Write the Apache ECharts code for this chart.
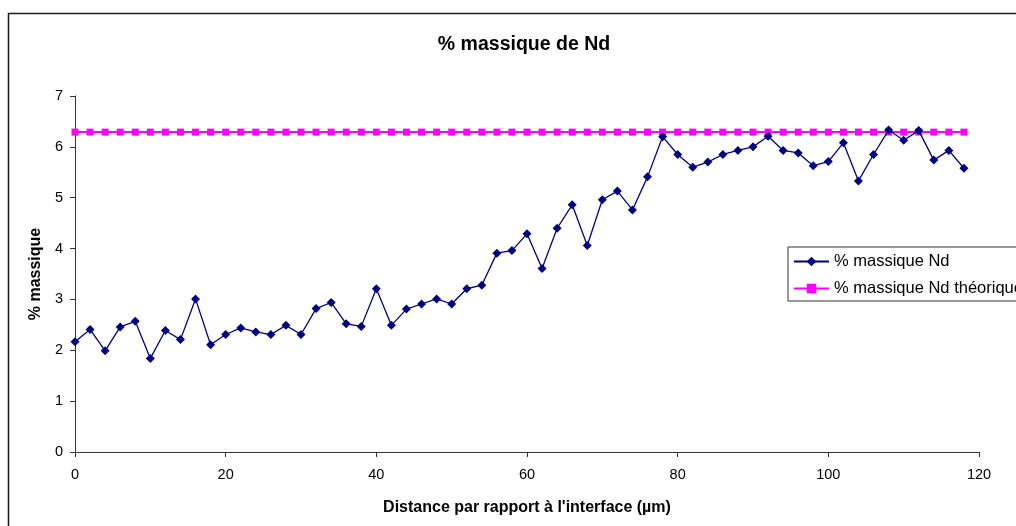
<!DOCTYPE html>
<html>
<head>
<meta charset="utf-8">
<title>% massique de Nd</title>
<script src="https://cdn.jsdelivr.net/npm/echarts@6/dist/echarts.min.js"></script>
<style>
  html, body { margin: 0; padding: 0; background: #fff; }
  #chart { width: 1016px; height: 526px; }
</style>
</head>
<body>
<div id="chart"></div>
<script>
// Distance from the interface (µm), one measurement every 2 µm
const distances = [
  0, 2, 4, 6, 8, 10, 12, 14, 16, 18,
  20, 22, 24, 26, 28, 30, 32, 34, 36, 38,
  40, 42, 44, 46, 48, 50, 52, 54, 56, 58,
  60, 62, 64, 66, 68, 70, 72, 74, 76, 78,
  80, 82, 84, 86, 88, 90, 92, 94, 96, 98,
  100, 102, 104, 106, 108, 110, 112, 114, 116, 118
];

// Measured Nd mass fraction (%)
const ndMeasured = [
  2.17, 2.41, 1.99, 2.46, 2.57, 1.84, 2.39, 2.21, 3.01, 2.11,
  2.31, 2.44, 2.36, 2.31, 2.49, 2.31, 2.82, 2.94, 2.52, 2.47,
  3.21, 2.49, 2.81, 2.91, 3.01, 2.91, 3.21, 3.28, 3.91, 3.96,
  4.29, 3.61, 4.40, 4.86, 4.06, 4.96, 5.13, 4.76, 5.41, 6.20,
  5.85, 5.60, 5.70, 5.85, 5.93, 6.00, 6.21, 5.93, 5.88, 5.63,
  5.71, 6.08, 5.33, 5.85, 6.33, 6.13, 6.32, 5.74, 5.93, 5.58
];

// Theoretical Nd mass fraction (%)
const ndTheoretical = [
  6.29, 6.29, 6.29, 6.29, 6.29, 6.29, 6.29, 6.29, 6.29, 6.29,
  6.29, 6.29, 6.29, 6.29, 6.29, 6.29, 6.29, 6.29, 6.29, 6.29,
  6.29, 6.29, 6.29, 6.29, 6.29, 6.29, 6.29, 6.29, 6.29, 6.29,
  6.29, 6.29, 6.29, 6.29, 6.29, 6.29, 6.29, 6.29, 6.29, 6.29,
  6.29, 6.29, 6.29, 6.29, 6.29, 6.29, 6.29, 6.29, 6.29, 6.29,
  6.29, 6.29, 6.29, 6.29, 6.29, 6.29, 6.29, 6.29, 6.29, 6.29
];

const seriesNames = ['% massique Nd', '% massique Nd théorique'];
const chartTitle = '% massique de Nd';
const xAxisTitle = "Distance par rapport à l'interface (µm)";
const yAxisTitle = '% massique';

const FONT = '"Liberation Sans", Arial, sans-serif';

function pairs(xs, ys) {
  return xs.map((x, i) => [x, ys[i]]);
}

const chart = echarts.init(document.getElementById('chart'), null, { renderer: 'canvas' });

chart.setOption({
  backgroundColor: '#ffffff',
  animation: false,
  textStyle: { fontFamily: FONT, color: '#000' },
  graphic: [
    {
      // outer frame of the chart area
      type: 'rect',
      shape: { x: 8.5, y: 13.5, width: 1200, height: 700 },
      style: { fill: 'none', stroke: '#1a1a1a', lineWidth: 1.5 },
      silent: true,
      z: -10
    }
  ],
  title: {
    text: chartTitle,
    left: 519,
    textAlign: 'center',
    top: 30,
    textStyle: { fontFamily: FONT, fontWeight: 'bold', fontSize: 19.5, color: '#000' }
  },
  legend: {
    orient: 'vertical',
    left: 788,
    top: 247,
    padding: [6, 5, 4, 5],
    itemWidth: 35,
    itemHeight: 12,
    itemGap: 10,
    backgroundColor: '#fff',
    borderColor: '#333',
    borderWidth: 1,
    borderRadius: 0,
    textStyle: { fontFamily: FONT, fontSize: 16.5, color: '#000' },
    data: seriesNames
  },
  grid: {
    left: 75,
    right: 37,
    top: 96,
    bottom: 74,
    containLabel: false
  },
  xAxis: {
    type: 'value',
    min: 0,
    max: 120,
    interval: 20,
    name: xAxisTitle,
    nameLocation: 'middle',
    nameGap: 48,
    nameTextStyle: { fontFamily: FONT, fontWeight: 'bold', fontSize: 16, color: '#000' },
    axisLine: { show: true, onZero: false, lineStyle: { color: '#333', width: 1 } },
    axisTick: { show: true, inside: false, length: 5, lineStyle: { color: '#333' } },
    axisLabel: { margin: 15, fontFamily: FONT, fontSize: 14.5, color: '#000' },
    splitLine: { show: false }
  },
  yAxis: {
    type: 'value',
    min: 0,
    max: 7,
    interval: 1,
    name: yAxisTitle,
    nameLocation: 'middle',
    nameGap: 31,
    nameTextStyle: { fontFamily: FONT, fontWeight: 'bold', fontSize: 16, color: '#000' },
    axisLine: { show: true, lineStyle: { color: '#333', width: 1 } },
    axisTick: { show: true, inside: false, length: 5, lineStyle: { color: '#333' } },
    axisLabel: { margin: 12, fontFamily: FONT, fontSize: 14.5, color: '#000' },
    splitLine: { show: false }
  },
  series: [
    {
      name: seriesNames[1],
      type: 'line',
      data: pairs(distances, ndTheoretical),
      symbol: 'rect',
      symbolSize: 7,
      lineStyle: { color: '#ff00ff', width: 2 },
      itemStyle: { color: '#ff00ff' },
      z: 2
    },
    {
      name: seriesNames[0],
      type: 'line',
      data: pairs(distances, ndMeasured),
      symbol: 'diamond',
      symbolSize: 9,
      lineStyle: { color: '#000080', width: 1.3 },
      itemStyle: { color: '#000080' },
      z: 3
    }
  ]
});
</script>
</body>
</html>
